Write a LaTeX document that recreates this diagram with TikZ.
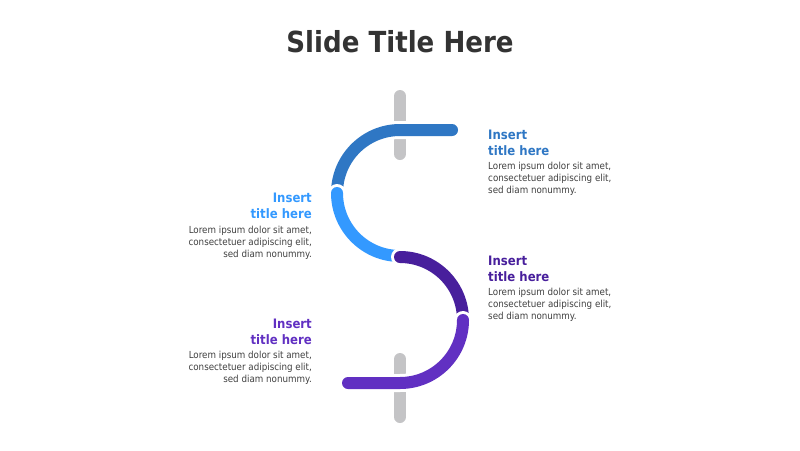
\documentclass[tikz,border=0pt]{standalone}
\usepackage{fontspec}
\setmainfont[FakeStretch=0.9]{DejaVu Sans}
\definecolor{cA}{HTML}{2F77C4}
\definecolor{cB}{HTML}{3399FF}
\definecolor{cC}{HTML}{481F9C}
\definecolor{cD}{HTML}{6130C2}
\definecolor{barg}{HTML}{C4C4C6}
\definecolor{bodyg}{HTML}{404040}
\definecolor{titleg}{HTML}{333333}
\tikzset{
  under/.style={draw=white, line width=18pt, line cap=round},
  seg/.style={line width=12pt, line cap=round},
  hd/.style={font=\bfseries\fontsize{13}{16}\selectfont, inner sep=0pt},
  bd/.style={font=\fontsize{9.7}{12}\selectfont, text=bodyg, inner sep=0pt},
}
\begin{document}
\begin{tikzpicture}[x=1pt,y=-1pt]
\useasboundingbox[fill=white] (0,0) rectangle (800,450);
\node[font=\bfseries\fontsize{29}{32}\selectfont, text=titleg, anchor=base] (title) at (400,52) {Slide Title Here};
% gray bars
\draw[barg, seg] (400,96) -- (400,154);
\draw[barg, seg] (400,359) -- (400,417);
% segment 1
\draw[under] (452,130) -- (400,130) arc[start angle=-90, end angle=-180, radius=63];
\draw[seg, cA] (452,130) -- (400,130) arc[start angle=-90, end angle=-180, radius=63];
% segment 2
\draw[under] (337,193) arc[start angle=-180, end angle=-270, radius=63];
\draw[seg, cB] (337,193) arc[start angle=-180, end angle=-270, radius=63];
% segment 3
\draw[under] (400,257) arc[start angle=-90, end angle=0, radius=63];
\draw[seg, cC] (400,257) arc[start angle=-90, end angle=0, radius=63];
% segment 4
\draw[under] (463,320) arc[start angle=0, end angle=90, radius=63] -- (348,383);
\draw[seg, cD] (463,320) arc[start angle=0, end angle=90, radius=63] -- (348,383);
% texts
\node[hd, text=cA, align=left, anchor=north west] (h1) at (488,130) {Insert\\title here};
\node[bd, align=left, anchor=north west] (b1) at (488,162) {Lorem ipsum dolor sit amet,\\consectetuer adipiscing elit,\\sed diam nonummy.};
\node[hd, text=cB, align=right, anchor=north east] (h2) at (312,193) {Insert\\title here};
\node[bd, align=right, anchor=north east] (b2) at (312,226) {Lorem ipsum dolor sit amet,\\consectetuer adipiscing elit,\\sed diam nonummy.};
\node[hd, text=cC, align=left, anchor=north west] (h3) at (488,256) {Insert\\title here};
\node[bd, align=left, anchor=north west] (b3) at (488,288) {Lorem ipsum dolor sit amet,\\consectetuer adipiscing elit,\\sed diam nonummy.};
\node[hd, text=cD, align=right, anchor=north east] (h4) at (312,319) {Insert\\title here};
\node[bd, align=right, anchor=north east] (b4) at (312,351) {Lorem ipsum dolor sit amet,\\consectetuer adipiscing elit,\\sed diam nonummy.};
\end{tikzpicture}
\end{document}
